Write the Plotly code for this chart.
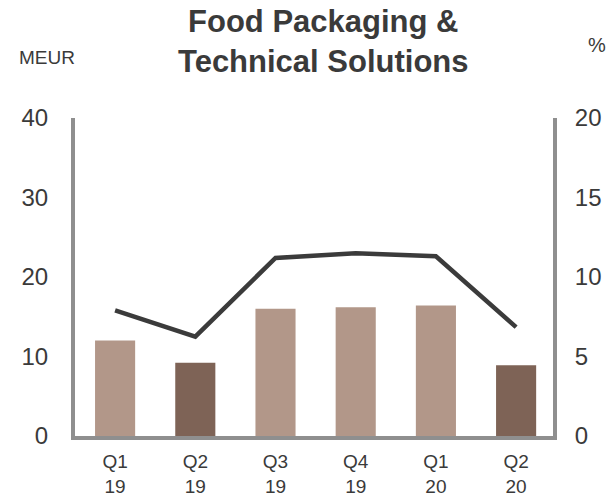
import plotly.graph_objects as go

# Quarterly figures for the Food Packaging & Technical Solutions segment
quarters = ["Q1<br>19", "Q2<br>19", "Q3<br>19", "Q4<br>19", "Q1<br>20", "Q2<br>20"]
ebit_meur = [12.0, 9.2, 16.0, 16.2, 16.4, 8.9]
margin_pct = [7.9, 6.25, 11.2, 11.5, 11.3, 6.85]
bar_colors = ["#B29789", "#7E6356", "#B29789", "#B29789", "#B29789", "#7E6356"]

left_ticks = [0, 10, 20, 30, 40]
right_ticks = [0, 5, 10, 15, 20]

axis_gray = "#8F8F8F"
text_color = "#3A3A3A"
font_family = "Liberation Sans, Arial, sans-serif"

fig = go.Figure()

fig.add_trace(go.Bar(
    x=quarters, y=ebit_meur,
    marker=dict(color=bar_colors, line=dict(width=0)),
    width=0.5, yaxis="y", showlegend=False,
))

fig.add_trace(go.Scatter(
    x=quarters, y=margin_pct,
    mode="lines", line=dict(color="#3B3B3B", width=4.5),
    yaxis="y2", showlegend=False,
))

fig.update_layout(
    width=611, height=496,
    margin=dict(l=75, r=58, t=118, b=60),
    paper_bgcolor="white", plot_bgcolor="white",
    font=dict(family=font_family, color=text_color),
    xaxis=dict(
        type="category", range=[-0.5, 5.46], automargin=False,
        showline=True, linecolor=axis_gray, linewidth=4,
        showgrid=False, zeroline=False, ticks="",
        tickfont=dict(size=19, color=text_color),
        ticklabelstandoff=5,
    ),
    yaxis=dict(
        range=[0, 40], tickvals=left_ticks, automargin=False,
        showline=True, linecolor=axis_gray, linewidth=4,
        showgrid=False, zeroline=False, ticks="",
        tickfont=dict(size=24, color=text_color),
        ticklabelstandoff=18,
    ),
    yaxis2=dict(
        range=[0, 20], tickvals=right_ticks, automargin=False,
        overlaying="y", side="right",
        showline=True, linecolor=axis_gray, linewidth=4,
        showgrid=False, zeroline=False, ticks="",
        tickfont=dict(size=24, color=text_color),
        ticklabelstandoff=13,
    ),
    annotations=[
        dict(text="<b>Food Packaging &<br>Technical Solutions</b>",
             xref="paper", yref="paper", x=0.52, y=1.0, yshift=116,
             xanchor="center", yanchor="top", showarrow=False,
             font=dict(size=31, color=text_color)),
        dict(text="MEUR", xref="paper", yref="paper", x=0, xshift=-28,
             y=1.0, yshift=61, xanchor="center", yanchor="middle",
             showarrow=False, font=dict(size=19, color=text_color)),
        dict(text="%", xref="paper", yref="paper", x=1, xshift=44,
             y=1.0, yshift=73, xanchor="center", yanchor="middle",
             showarrow=False, font=dict(size=20, color=text_color)),
    ],
)

fig.write_html("out.html")
